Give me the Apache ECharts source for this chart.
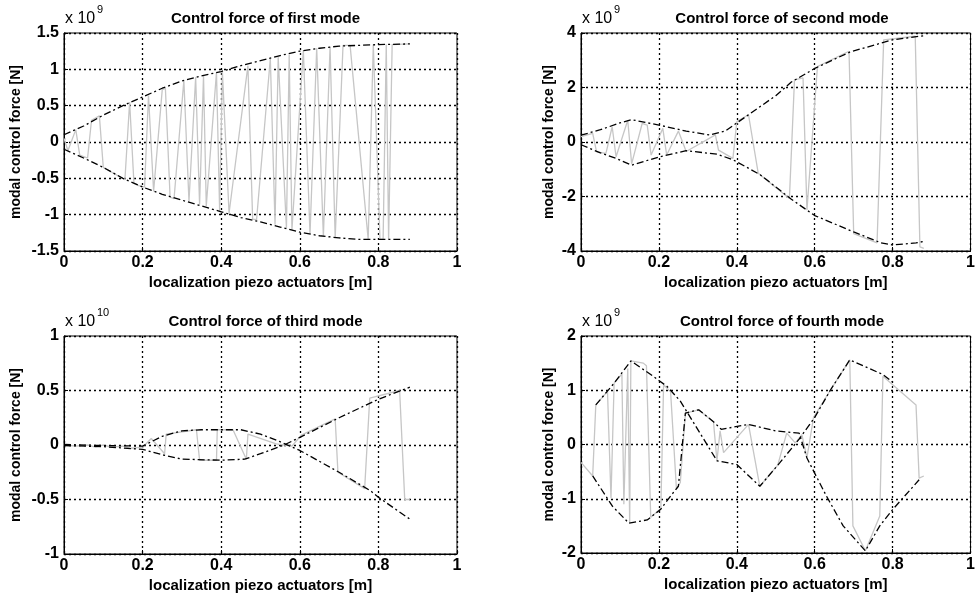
<!DOCTYPE html>
<html>
<head>
<meta charset="utf-8">
<script src="https://cdn.jsdelivr.net/npm/echarts@6/dist/echarts.min.js"></script>
<style>
  html, body { margin: 0; padding: 0; background: #fff; }
  #chart { width: 978px; height: 597px; }
</style>
</head>
<body>
<div id="chart"></div>
<script>
// x positions in m, values in units of the exponent shown above each panel
const xTicks = [0, 0.2, 0.4, 0.6, 0.8, 1]

const titles = [
  'Control force of first mode',
  'Control force of second mode',
  'Control force of third mode',
  'Control force of fourth mode'
]
const exponents = ['9', '9', '10', '9']
const yRanges = [[-1.5, 1.5, 0.5], [-4, 4, 2], [-1, 1, 0.5], [-2, 2, 1]]

// mode 1
const mode1Force = [
  [0, 0.05], [0.01, -0.12], [0.03, 0.17], [0.04, -0.18], [0.06, -0.22], [0.07, 0.3],
  [0.09, 0.36], [0.1, -0.35], [0.155, -0.52], [0.167, 0.55], [0.178, -0.57], [0.19, -0.6],
  [0.205, -0.62], [0.215, 0.64], [0.228, -0.68], [0.25, 0.72], [0.258, 0.74], [0.27, -0.76],
  [0.28, -0.78], [0.305, 0.85], [0.318, -0.82], [0.335, 0.89], [0.345, -0.86], [0.355, 0.91],
  [0.362, -0.88], [0.388, 0.96], [0.396, -0.95], [0.403, 0.97], [0.42, -0.98], [0.468, 1.05],
  [0.48, -1.06], [0.49, -1.07], [0.525, 1.15], [0.537, -1.14], [0.545, 1.17], [0.566, -1.19],
  [0.573, 1.2], [0.58, -1.21], [0.609, 1.26], [0.626, -1.27], [0.643, 1.29], [0.66, -1.3],
  [0.677, 1.31], [0.69, -1.32], [0.71, 1.33], [0.728, 1.33], [0.774, -1.34], [0.779, -1.34],
  [0.787, 1.34], [0.804, -1.34], [0.812, -1.34], [0.82, 1.34], [0.826, -1.34], [0.835, 1.34],
  [0.88, 1.35]
]
const mode1Upper = [
  [0, 0.1], [0.05, 0.22], [0.1, 0.37], [0.15, 0.5], [0.2, 0.62], [0.25, 0.74], [0.3, 0.84],
  [0.35, 0.91], [0.4, 0.97], [0.45, 1.05], [0.5, 1.12], [0.55, 1.19], [0.6, 1.25], [0.65, 1.29],
  [0.7, 1.32], [0.75, 1.33], [0.8, 1.34], [0.88, 1.35]
]
const mode1Lower = [
  [0, -0.1], [0.05, -0.22], [0.1, -0.35], [0.15, -0.5], [0.2, -0.62], [0.25, -0.72], [0.3, -0.8],
  [0.35, -0.88], [0.4, -0.96], [0.45, -1.04], [0.5, -1.1], [0.55, -1.17], [0.6, -1.24],
  [0.65, -1.29], [0.7, -1.32], [0.75, -1.34], [0.8, -1.34], [0.88, -1.34]
]

// mode 2
const mode2Force = [
  [0, 0.2], [0.03, 0.32], [0.04, -0.36], [0.064, -0.42], [0.08, 0.56], [0.09, -0.54],
  [0.12, 0.8], [0.13, -0.8], [0.157, 0.68], [0.17, 0.62], [0.18, -0.48], [0.21, 0.5],
  [0.22, -0.48], [0.25, 0.4], [0.27, -0.35], [0.345, 0.26], [0.353, -0.3], [0.39, -0.6],
  [0.4, 0.75], [0.43, 1.0], [0.455, -1.15], [0.535, -2.07], [0.548, 2.28], [0.57, 2.35],
  [0.58, -2.5], [0.607, 2.77], [0.688, 3.33], [0.7, -3.36], [0.76, -3.7], [0.777, 3.75],
  [0.858, 3.88], [0.87, -3.85], [0.88, -3.9]
]
const mode2Upper = [
  [0, 0.25], [0.05, 0.45], [0.1, 0.7], [0.13, 0.82], [0.2, 0.62], [0.27, 0.4], [0.33, 0.26],
  [0.37, 0.4], [0.4, 0.7], [0.43, 1.0], [0.5, 1.7], [0.54, 2.2], [0.6, 2.7], [0.69, 3.3],
  [0.8, 3.75], [0.88, 3.9]
]
const mode2Lower = [
  [0, -0.1], [0.05, -0.4], [0.09, -0.6], [0.13, -0.85], [0.2, -0.55], [0.27, -0.32],
  [0.35, -0.45], [0.39, -0.65], [0.46, -1.2], [0.54, -2.1], [0.6, -2.7], [0.7, -3.3],
  [0.77, -3.7], [0.8, -3.78], [0.86, -3.7], [0.88, -3.65]
]

// mode 3
const mode3Force = [
  [0, 0], [0.03, -0.01], [0.06, 0], [0.08, -0.02], [0.1, 0], [0.12, -0.02], [0.15, -0.01],
  [0.17, -0.03], [0.2, -0.02], [0.222, 0.06], [0.256, -0.08], [0.26, 0.1], [0.337, 0.14],
  [0.345, -0.14], [0.388, -0.14], [0.39, 0.14], [0.43, 0.14], [0.464, -0.13], [0.468, 0.1],
  [0.54, 0.01], [0.58, -0.01], [0.604, 0.09], [0.69, 0.24], [0.697, -0.25], [0.765, -0.4],
  [0.778, 0.43], [0.854, 0.5], [0.867, -0.5], [0.88, -0.5]
]
const mode3EnvA = [
  [0, 0.005], [0.1, -0.005], [0.2, -0.01], [0.25, 0.08], [0.3, 0.13], [0.35, 0.14],
  [0.45, 0.14], [0.5, 0.1], [0.55, 0.03], [0.6, -0.05], [0.7, -0.25], [0.78, -0.42],
  [0.8, -0.48], [0.88, -0.68]
]
const mode3EnvB = [
  [0, -0.005], [0.1, -0.015], [0.2, -0.04], [0.25, -0.09], [0.3, -0.13], [0.4, -0.14],
  [0.46, -0.13], [0.5, -0.08], [0.56, 0], [0.6, 0.07], [0.7, 0.25], [0.8, 0.42], [0.88, 0.53]
]

// mode 4
const mode4Force = [
  [0, -0.33], [0.03, -0.58], [0.038, 0.73], [0.068, 0.98], [0.077, -0.99], [0.085, 1.13],
  [0.105, 1.3], [0.11, -1.1], [0.12, 1.4], [0.125, -1.45], [0.128, 1.54], [0.16, 1.5],
  [0.168, 1.45], [0.179, -1.34], [0.205, -1.18], [0.212, 1.1], [0.23, 0.97], [0.245, -0.82],
  [0.255, -0.7], [0.268, 0.58], [0.302, 0.64], [0.34, 0.42], [0.349, -0.3], [0.357, 0.25],
  [0.366, -0.15], [0.43, 0.37], [0.459, -0.77], [0.505, -0.38], [0.528, 0.21], [0.55, 0.03],
  [0.567, 0.18], [0.58, -0.24], [0.597, 0.5], [0.64, 1.0], [0.69, 1.56], [0.698, -1.5],
  [0.73, -1.96], [0.767, -1.32], [0.775, 1.26], [0.86, 0.73], [0.868, -0.62], [0.88, -0.58]
]
const mode4EnvA = [
  [0.038, 0.73], [0.085, 1.13], [0.128, 1.54], [0.179, 1.29], [0.221, 1.07], [0.255, 0.8],
  [0.349, -0.3], [0.4, -0.37], [0.459, -0.77], [0.51, -0.34], [0.56, 0.1], [0.6, 0.5],
  [0.64, 1.0], [0.69, 1.56], [0.775, 1.29], [0.8, 1.15]
]
const mode4EnvB = [
  [0.03, -0.58], [0.081, -1.14], [0.123, -1.45], [0.17, -1.39], [0.204, -1.2], [0.23, -0.95],
  [0.25, -0.77], [0.268, 0.58], [0.302, 0.64], [0.34, 0.42], [0.36, 0.28], [0.43, 0.37],
  [0.5, 0.25], [0.56, 0.21], [0.58, -0.25], [0.63, -0.95], [0.673, -1.5], [0.73, -1.96],
  [0.767, -1.5], [0.8, -1.2], [0.868, -0.65]
]

const forces = [mode1Force, mode2Force, mode3Force, mode4Force]
const envelopes = [[mode1Upper, mode1Lower], [mode2Upper, mode2Lower], [mode3EnvA, mode3EnvB], [mode4EnvA, mode4EnvB]]

const FONT = 'Liberation Sans, Arial, sans-serif'
const grids = [
  { left: 64, top: 33, width: 393, height: 218 },
  { left: 581, top: 33, width: 392, height: 218 },
  { left: 64, top: 336, width: 393, height: 218 },
  { left: 581, top: 336, width: 392, height: 217 }
]
const yNameGaps = [41, 25, 41, 25]

const gridLine = { show: true, lineStyle: { color: '#000', type: [2, 3], width: 1.3 } }
const tickLabel = { color: '#000', fontSize: 16, fontWeight: 'bold', fontFamily: FONT }
const nameStyle = { color: '#000', fontSize: 15, fontWeight: 'bold', fontFamily: FONT }

const chart = echarts.init(document.getElementById('chart'))

const xAxis = grids.map((g, i) => ({
  gridIndex: i, type: 'value', min: 0, max: 1, interval: 0.2,
  name: 'localization piezo actuators [m]', nameLocation: 'middle', nameGap: 24,
  nameTextStyle: nameStyle,
  axisLine: { show: true, onZero: false, lineStyle: { color: '#000' } },
  axisTick: { show: true, inside: true, length: 4, lineStyle: { color: '#000' } },
  axisLabel: { ...tickLabel, margin: 4 },
  splitLine: gridLine
}))

const yAxis = grids.map((g, i) => ({
  gridIndex: i, type: 'value', min: yRanges[i][0], max: yRanges[i][1], interval: yRanges[i][2],
  name: 'modal control force [N]', nameLocation: 'middle', nameGap: yNameGaps[i], nameRotate: 90,
  nameTextStyle: { ...nameStyle, fontSize: 14 },
  axisLine: { show: true, onZero: false, lineStyle: { color: '#000' } },
  axisTick: { show: true, inside: true, length: 4, lineStyle: { color: '#000' } },
  axisLabel: { ...tickLabel, margin: 5 },
  splitLine: gridLine
}))

const series = []
forces.forEach((d, i) => {
  series.push({
    type: 'line', xAxisIndex: i, yAxisIndex: i, data: d, symbol: 'none',
    lineStyle: { color: '#c6c6c6', width: 1.3 }, z: 3
  })
  envelopes[i].forEach(env => {
    series.push({
      type: 'line', xAxisIndex: i, yAxisIndex: i, data: env, symbol: 'none',
      lineStyle: { color: '#000', width: 1.3, type: [7, 3, 2, 3] }, z: 4
    })
  })
})

const title = grids.map((g, i) => ({
  text: titles[i],
  left: g.left + g.width / 2, top: g.top - 27, textAlign: 'center',
  textStyle: { color: '#000', fontSize: 15, fontWeight: 'bold', fontFamily: FONT }
}))

const graphic = []
grids.forEach((g, i) => {
  graphic.push({
    type: 'text', x: g.left + 1, y: g.top - 14,
    style: { text: 'x 10', fill: '#000', fontSize: 16, fontFamily: FONT, verticalAlign: 'middle' }
  })
  graphic.push({
    type: 'text', x: g.left + 33, y: g.top - 23,
    style: { text: exponents[i], fill: '#000', fontSize: 11, fontFamily: FONT, verticalAlign: 'middle' }
  })
})

chart.setOption({
  backgroundColor: '#fff',
  animation: false,
  title,
  grid: grids.map(g => ({ ...g, show: true, borderColor: '#000', borderWidth: 1, backgroundColor: '#fff' })),
  xAxis,
  yAxis,
  series,
  graphic
})
</script>
</body>
</html>
